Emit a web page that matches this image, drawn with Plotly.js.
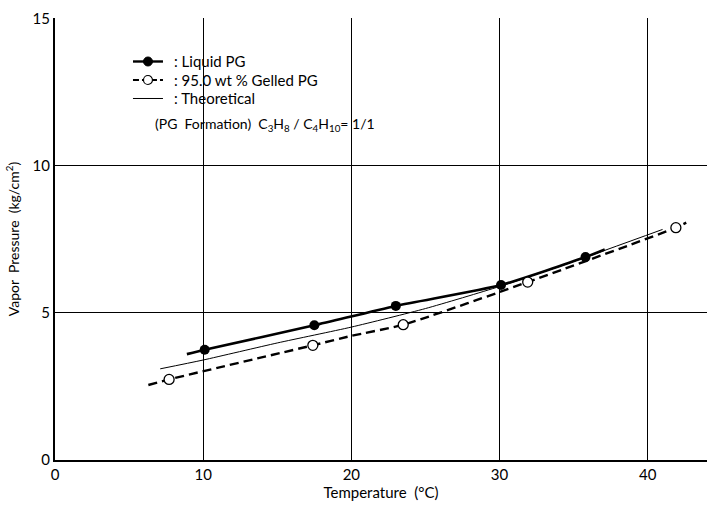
<!DOCTYPE html>
<html>
<head>
<meta charset="utf-8">
<script src="https://cdn.plot.ly/plotly-3.0.1.min.js"></script>
<style>html,body{margin:0;padding:0;background:#fff;}#chart{width:707px;height:507px;}</style>
</head>
<body>
<div id="chart"></div>
<script>
// Measured points
var liquidX = [10.1, 17.5, 23.0, 30.1, 35.8];
var liquidY = [3.75, 4.58, 5.24, 5.95, 6.90];
var gelledX = [7.7, 17.4, 23.5, 31.9, 41.9];
var gelledY = [2.74, 3.90, 4.60, 6.05, 7.90];
// Drawn curves
var liquidLineX = [8.9, 10.1, 17.5, 23.0, 30.1, 35.8, 37.1];
var liquidLineY = [3.60, 3.75, 4.58, 5.24, 5.95, 6.90, 7.16];
var gelledLineX = [6.3, 7.7, 17.4, 20.0, 23.5, 31.9, 41.9, 42.6];
var gelledLineY = [2.55, 2.74, 3.90, 4.22, 4.60, 6.05, 7.90, 8.07];
var theoX = [7.1, 10.0, 15.0, 20.0, 25.0, 30.0, 35.0, 41.0];
var theoY = [3.10, 3.40, 3.98, 4.52, 5.15, 5.90, 6.75, 7.84];
var xTicks = [0, 10, 20, 30, 40];
var yTicks = [0, 5, 10, 15];
var legendLabels = [': Liquid PG', ': 95.0 wt % Gelled PG', ': Theoretical'];
var noteText = '(PG  Formation)  C<sub>3</sub>H<sub>8</sub> / C<sub>4</sub>H<sub>10</sub>= 1/1';

var FONT = 'Lato, "Open Sans", sans-serif';
var traces = [
  {x: theoX, y: theoY, mode: 'lines', name: 'Theoretical', line: {color: '#000', width: 1, shape: 'spline', smoothing: 0.6}},
  {x: liquidLineX, y: liquidLineY, mode: 'lines', name: 'Liquid PG', line: {color: '#000', width: 2.6, shape: 'spline', smoothing: 0.6}},
  {x: gelledLineX, y: gelledLineY, mode: 'lines', name: 'Gelled PG', line: {color: '#000', width: 2.4, dash: '9px,5px', shape: 'spline', smoothing: 0.6}},
  {x: liquidX, y: liquidY, mode: 'markers', name: 'Liquid PG', marker: {color: '#000', size: 10}},
  {x: gelledX, y: gelledY, mode: 'markers', name: 'Gelled PG', marker: {color: '#fff', size: 10, line: {color: '#000', width: 1.3}}}
];

// Hand-drawn legend (paper coordinates)
var lgX0 = 0.1196, lgX1 = 0.1656, lgMk = 0.1426, lgTx = 0.181;
var lgRows = [0.9016, 0.8597, 0.8179];
var shapes = [
  {type: 'line', xref: 'paper', yref: 'paper', x0: lgX0, x1: lgX1, y0: lgRows[0], y1: lgRows[0], line: {color: '#000', width: 2.4}},
  {type: 'circle', xref: 'paper', yref: 'paper', xsizemode: 'pixel', ysizemode: 'pixel', xanchor: lgMk, yanchor: lgRows[0], x0: -4.5, x1: 4.5, y0: -4.5, y1: 4.5, fillcolor: '#000', line: {color: '#000', width: 1}},
  {type: 'line', xref: 'paper', yref: 'paper', x0: lgX0, x1: lgX1, y0: lgRows[1], y1: lgRows[1], line: {color: '#000', width: 2, dash: '6px,3px'}},
  {type: 'circle', xref: 'paper', yref: 'paper', xsizemode: 'pixel', ysizemode: 'pixel', xanchor: lgMk, yanchor: lgRows[1], x0: -4.5, x1: 4.5, y0: -4.5, y1: 4.5, fillcolor: '#fff', line: {color: '#000', width: 1.2}},
  {type: 'line', xref: 'paper', yref: 'paper', x0: lgX0, x1: lgX1, y0: lgRows[2], y1: lgRows[2], line: {color: '#000', width: 1}}
];
var annotations = legendLabels.map(function (t, i) {
  return {xref: 'paper', yref: 'paper', x: lgTx, y: lgRows[i], xanchor: 'left', yanchor: 'middle', showarrow: false,
          text: t, font: {size: 15, family: FONT}, borderpad: 0};
});
annotations.push({xref: 'paper', yref: 'paper', x: 0.15, y: 0.76, xanchor: 'left', yanchor: 'middle', showarrow: false,
  text: noteText, font: {size: 14, family: FONT}});

var layout = {
  width: 707, height: 507,
  margin: {l: 55, r: 0, t: 18, b: 47},
  paper_bgcolor: '#fff', plot_bgcolor: '#fff',
  font: {family: FONT, color: '#000', size: 14},
  showlegend: false,
  xaxis: {
    range: [0, 44], tickvals: xTicks, ticktext: xTicks.map(String),
    showgrid: true, gridcolor: '#000', gridwidth: 1,
    showline: true, linecolor: '#000', linewidth: 2, ticks: '', zeroline: false,
    tickfont: {size: 15, family: FONT},
    title: {text: 'Temperature  (°C)', font: {size: 15, family: FONT}, standoff: 4}
  },
  yaxis: {
    range: [0, 15.03], tickvals: yTicks, ticktext: yTicks.map(String),
    showgrid: true, gridcolor: '#000', gridwidth: 1,
    showline: true, linecolor: '#000', linewidth: 2, ticks: '', zeroline: false,
    tickfont: {size: 15, family: FONT},
    title: {text: 'Vapor  Pressure  (kg/cm<sup>2</sup>)', font: {size: 14, family: FONT}, standoff: 10}
  },
  shapes: shapes,
  annotations: annotations
};
Plotly.newPlot('chart', traces, layout, {displayModeBar: false, staticPlot: true});
</script>
</body>
</html>
